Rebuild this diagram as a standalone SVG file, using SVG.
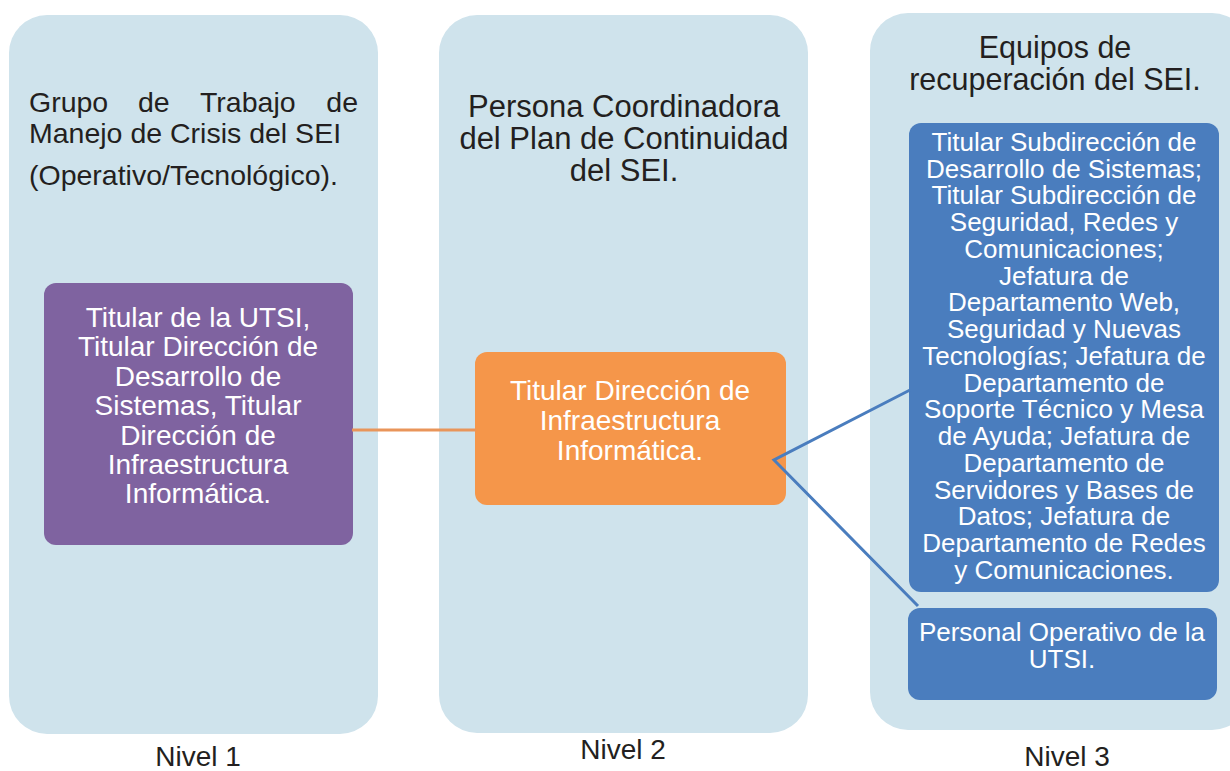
<svg xmlns="http://www.w3.org/2000/svg" width="1230" height="771" viewBox="0 0 1230 771">
<style>
.col{fill:#cfe3ec}
.hdr{font-family:"Liberation Sans",Arial,sans-serif;fill:#231f20}
.wt{font-family:"Liberation Sans",Arial,sans-serif;fill:#ffffff;text-anchor:middle}
.lvl{font-family:"Liberation Sans",Arial,sans-serif;fill:#231f20;font-size:28px;text-anchor:middle}
</style>
<rect width="1230" height="771" fill="#ffffff"/>
<g id="col1">
<rect class="col" x="9" y="15" width="369" height="719" rx="38"/>
<g class="hdr" font-size="28.5">
<text x="29" y="112">Grupo</text>
<text x="138" y="112">de</text>
<text x="200" y="112">Trabajo</text>
<text x="358" y="112" text-anchor="end">de</text>
<text x="29" y="143">Manejo de Crisis del SEI</text>
<text x="29" y="185">(Operativo/Tecnológico).</text>
</g>
</g>
<g id="col2">
<rect class="col" x="439" y="15" width="369" height="718" rx="38"/>
<g class="hdr" font-size="31" text-anchor="middle">
<text x="624" y="117">Persona Coordinadora</text>
<text x="624" y="149">del Plan de Continuidad</text>
<text x="624" y="181">del SEI.</text>
</g>
</g>
<g id="col3">
<rect class="col" x="870" y="13" width="380" height="717" rx="38"/>
<g class="hdr" font-size="30.5" text-anchor="middle">
<text x="1055" y="58">Equipos de</text>
<text x="1055" y="90">recuperación del SEI.</text>
</g>
</g>
<g id="n1">
<rect x="44" y="283" width="309" height="262" rx="12" fill="#7f63a0"/>
<g class="wt" font-size="28">
<text x="198" y="327">Titular de la UTSI,</text>
<text x="198" y="356">Titular Dirección de</text>
<text x="198" y="386">Desarrollo de</text>
<text x="198" y="415">Sistemas, Titular</text>
<text x="198" y="445">Dirección de</text>
<text x="198" y="474">Infraestructura</text>
<text x="198" y="503">Informática.</text>
</g>
</g>
<g id="n2">
<rect x="475" y="352" width="311" height="153" rx="12" fill="#f5964a"/>
<g class="wt" font-size="28">
<text x="630" y="400">Titular Dirección de</text>
<text x="630" y="430">Infraestructura</text>
<text x="630" y="460">Informática.</text>
</g>
</g>
<g id="n3">
<rect x="909" y="123" width="310" height="469" rx="12" fill="#4a7dbe"/>
<g class="wt" font-size="26">
<text x="1064" y="151">Titular Subdirección de</text>
<text x="1064" y="178">Desarrollo de Sistemas;</text>
<text x="1064" y="204">Titular Subdirección de</text>
<text x="1064" y="231">Seguridad, Redes y</text>
<text x="1064" y="258">Comunicaciones;</text>
<text x="1064" y="285">Jefatura de</text>
<text x="1064" y="311">Departamento Web,</text>
<text x="1064" y="338">Seguridad y Nuevas</text>
<text x="1064" y="365">Tecnologías; Jefatura de</text>
<text x="1064" y="392">Departamento de</text>
<text x="1064" y="418">Soporte Técnico y Mesa</text>
<text x="1064" y="445">de Ayuda; Jefatura de</text>
<text x="1064" y="472">Departamento de</text>
<text x="1064" y="499">Servidores y Bases de</text>
<text x="1064" y="525">Datos; Jefatura de</text>
<text x="1064" y="552">Departamento de Redes</text>
<text x="1064" y="579">y Comunicaciones.</text>
</g>
</g>
<g id="n4">
<rect x="908" y="608" width="309" height="92" rx="12" fill="#4a7dbe"/>
<g class="wt" font-size="26">
<text x="1062" y="641">Personal Operativo de la</text>
<text x="1062" y="668">UTSI.</text>
</g>
</g>
<g id="connectors" fill="none">
<line x1="352" y1="430" x2="476" y2="430" stroke="#e9955a" stroke-width="3"/>
<polyline points="910,390 774,460 918,606" stroke="#4a7dbe" stroke-width="3"/>
</g>
<g id="levels">
<text class="lvl" x="198" y="766">Nivel 1</text>
<text class="lvl" x="623" y="759">Nivel 2</text>
<text class="lvl" x="1067" y="766">Nivel 3</text>
</g>
</svg>
